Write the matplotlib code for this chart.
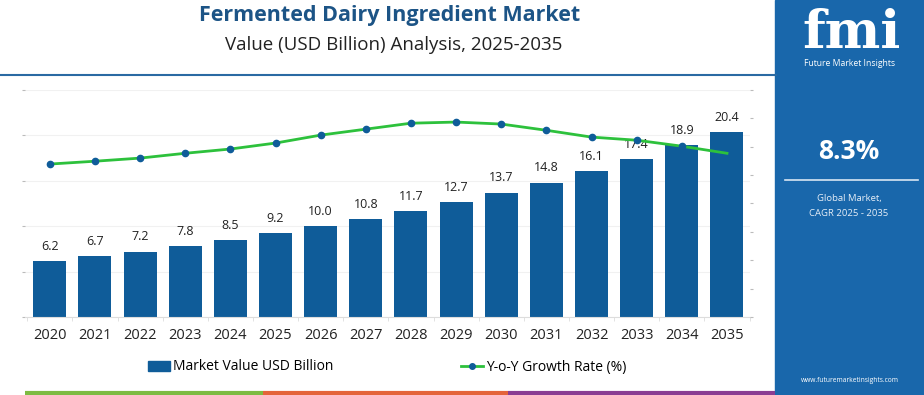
import numpy as np
import matplotlib
matplotlib.use("Agg")
import matplotlib.pyplot as plt
from matplotlib.patches import Rectangle
from matplotlib.lines import Line2D

years = ["2020", "2021", "2022", "2023", "2024", "2025", "2026", "2027",
         "2028", "2029", "2030", "2031", "2032", "2033", "2034", "2035"]
market_value = [6.2, 6.7, 7.2, 7.8, 8.5, 9.2, 10.0, 10.8,
                11.7, 12.7, 13.7, 14.8, 16.1, 17.4, 18.9, 20.4]
# growth line (right axis, hidden scale 0-8)
yoy_growth = [5.39, 5.49, 5.60, 5.77, 5.92, 6.13, 6.41, 6.62,
              6.83, 6.87, 6.80, 6.58, 6.34, 6.23, 6.02, 5.77]

title = "Fermented Dairy Ingredient Market"
subtitle = "Value (USD Billion) Analysis, 2025-2035"
cagr = "8.3%"

BAR = "#0f5c99"
GREEN = "#2dc13c"
PANEL = "#1967ab"
TITLE_C = "#1c5486"

plt.rcParams['font.family'] = ['Open Sans', 'DejaVu Sans']

fig = plt.figure(figsize=(9.24, 3.95), dpi=100)
W, H = 924, 395

def fx(px):
    return px / W

def fy(py):
    return 1 - py / H

# header
fig.text(fx(390), fy(16), title, ha="center", va="center", fontsize=15.5,
         fontweight="bold", color=TITLE_C)
fig.text(fx(394), fy(45), subtitle, ha="center", va="center", fontsize=13.5,
         color="#222222")
fig.add_artist(Line2D([0, fx(776)], [fy(75), fy(75)], color="#2a6aa3", lw=1.5))

# right panel
fig.add_artist(Rectangle((fx(775), 0), 1 - fx(775), 1, color=PANEL, zorder=0))
fig.text(fx(852), fy(34), "fmi", ha="center", va="center", fontsize=38,
         fontweight="bold", family=["DejaVu Serif"], color="white")
fig.text(fx(850), fy(63), "Future Market Insights", ha="center", va="center",
         fontsize=6.2, color="white")
fig.text(fx(849), fy(151), cagr, ha="center", va="center", fontsize=19,
         fontweight="bold", color="white")
fig.add_artist(Line2D([fx(785), fx(918)], [fy(180), fy(180)], color="#d8e6f3", lw=1.2))
fig.text(fx(849), fy(198), "Global Market,", ha="center", va="center",
         fontsize=6.8, color="#e6eef7")
fig.text(fx(849), fy(214), "CAGR 2025 - 2035", ha="center", va="center",
         fontsize=6.8, color="#e6eef7")
fig.text(fx(850), fy(380), "www.futuremarketinsights.com", ha="center",
         va="center", fontsize=4.8, color="white")

# bottom colour strip
for x0, x1, c in [(25, 263, "#7dbb42"), (263, 508, "#e4643a"), (508, 775, "#8a3d93")]:
    fig.add_artist(Line2D([fx(x0), fx(x1)], [fy(393), fy(393)], color=c, lw=3,
                          solid_capstyle="butt"))

# chart
ax = fig.add_axes([fx(25), fy(317), fx(750) - fx(25), fy(90) - fy(317)])
x = np.arange(len(years))
bars = ax.bar(x, market_value, width=0.73, color=BAR, zorder=2,
              label="Market Value USD Billion")
for xi, v in zip(x, market_value):
    ax.text(xi, v + 0.9, f"{v:.1f}", ha="center", va="bottom", fontsize=9,
            color="#222222", zorder=4)
ax.set_ylim(0, 25)
ax.set_xlim(-0.55, len(years) - 0.49)
ax.set_yticks(np.arange(0, 26, 5))
ax.set_yticklabels([])
ax.tick_params(axis="y", length=2, color="#bbbbbb")
ax.grid(axis="y", color="#f1f1f1", lw=0.8, zorder=0)
ax.set_xticks(x)
ax.set_xticklabels(years, fontsize=10.5, color="#222222")
ax.tick_params(axis="x", length=0, pad=8)
ax.set_xticks(np.arange(-0.5, len(years), 1), minor=True)
ax.tick_params(axis="x", which="minor", length=3, color="#dddddd")
for s in ["top", "right", "left"]:
    ax.spines[s].set_visible(False)
ax.spines["bottom"].set_color("#dddddd")

ax2 = ax.twinx()
ax2.plot(x, yoy_growth, color=GREEN, lw=2, marker="o", markersize=4.5,
         markerfacecolor=BAR, markeredgecolor=BAR, markevery=list(range(15)),
         zorder=5, label="Y-o-Y Growth Rate (%)")
ax2.set_ylim(0, 8)
ax2.set_yticks(np.arange(0, 9, 1))
ax2.set_yticklabels([])
ax2.tick_params(axis="y", length=2, color="#bbbbbb")
for s in ax2.spines.values():
    s.set_visible(False)

handles = [Rectangle((0, 0), 1, 1, color=BAR),
           Line2D([], [], color=GREEN, lw=2, marker="o", markersize=4,
                  markerfacecolor=BAR, markeredgecolor=BAR)]
fig.legend(handles, ["Market Value USD Billion", "Y-o-Y Growth Rate (%)"],
           loc="center", bbox_to_anchor=(fx(387), fy(367)), ncol=2, frameon=False,
           fontsize=10, handlelength=1.6, handletextpad=0.2, columnspacing=9.2)

fig.savefig("out.png", dpi=100)
